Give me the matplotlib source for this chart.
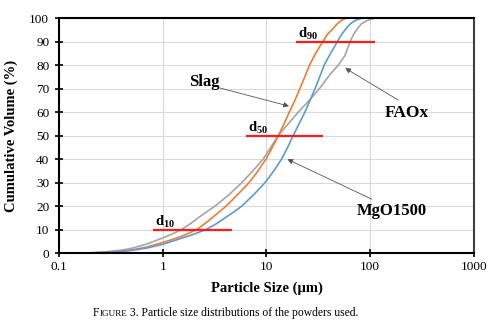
import matplotlib
matplotlib.use("Agg")
import matplotlib.pyplot as plt
from matplotlib.ticker import FixedLocator, NullLocator

plt.rcParams['font.family'] = ['Liberation Serif', 'DejaVu Serif']
plt.rcParams['mathtext.fontset'] = 'custom'
plt.rcParams['mathtext.rm'] = 'Liberation Serif'
plt.rcParams['mathtext.bf'] = 'Liberation Serif:bold'
plt.rcParams['mathtext.it'] = 'Liberation Serif:italic'

# Cumulative particle size distributions (size in µm, cumulative volume in %)
slag_size = [0.18, 0.25, 0.3, 0.4, 0.5, 0.7, 1.0, 1.25, 1.5, 1.8, 2.13, 2.55, 3.0,
             3.5, 4.1, 5.3, 6.8, 8.3, 9.9, 11.4, 13.0, 14.8, 16.6, 18.8, 21.0,
             23.4, 26.0, 29.8, 34.9, 38.5, 42.7, 47.5, 52.0, 56.0, 59.4, 1000]
slag_cum = [0, 0.15, 0.4, 0.8, 1.3, 2.5, 4.5, 5.8, 7.0, 8.5, 10, 12.5, 15,
            17.5, 20, 25, 30, 35, 40, 45, 50, 55, 60, 65, 70,
            75, 80, 85, 90, 93, 95, 97.3, 98.8, 99.6, 100, 100]

mgo_size = [0.2, 0.25, 0.3, 0.4, 0.5, 0.7, 1.0, 1.5, 2.0, 2.62, 3.3, 4.0, 4.85,
            5.8, 7.6, 9.7, 11.8, 14.0, 16.0, 18.1, 20.6, 23.5, 26.3, 29.4, 32.6,
            36.0, 41.5, 48.3, 52.5, 57.3, 63.0, 70.0, 78.0, 85.0, 1000]
mgo_cum = [0, 0.1, 0.3, 0.7, 1.1, 2.1, 3.7, 6.2, 8.0, 10, 12.5, 15, 17.5,
           20, 25, 30, 35, 40, 45, 50, 55, 60, 65, 70, 75,
           80, 85, 90, 92.8, 95, 97.2, 98.7, 99.6, 100, 100]

faox_size = [0.15, 0.2, 0.3, 0.4, 0.5, 0.7, 1.0, 1.25, 1.52, 1.85, 2.2, 2.65,
             3.2, 4.4, 5.8, 7.4, 9.3, 11.0, 13.0, 16.2, 20.3, 25.9, 32.4, 41.0,
             49.3, 57.0, 64.0, 69.0, 74.0, 82.0, 92.0, 105.0, 119.0, 1000]
faox_cum = [0, 0.1, 0.6, 1.2, 2.0, 3.8, 6.4, 8.2, 10, 12.5, 15, 17.5,
            20, 25, 30, 35, 40, 45, 50, 55, 60, 65, 70, 76,
            80, 84, 90, 93, 95, 97.5, 98.8, 99.7, 100, 100]

# d10 / d50 / d90 reference bars: (level, x start, x end)
d_levels = [10, 50, 90]
d_starts = [0.81, 6.35, 19.3]
d_ends = [4.6, 34.9, 110.0]
d_names = ['10', '50', '90']

x_ticks = [0.1, 1, 10, 100, 1000]
x_tick_labels = ['0.1', '1', '10', '100', '1000']
y_ticks = list(range(0, 101, 10))

fig = plt.figure(figsize=(4.99, 3.34), dpi=100)
ax = fig.add_axes([0.1182, 0.2425, 0.8317, 0.7035])
ax.set_xscale('log')
ax.set_xlim(0.1, 1000)
ax.set_ylim(0, 100)

ax.xaxis.set_major_locator(FixedLocator(x_ticks))
ax.xaxis.set_minor_locator(NullLocator())
ax.set_xticklabels(x_tick_labels)
ax.set_yticks(y_ticks)

ax.grid(True, color='#d9d9d9', lw=0.8)
ax.set_axisbelow(True)

ax.plot(faox_size, faox_cum, color='#a5a5a5', lw=1.2)
ax.plot(slag_size, slag_cum, color='#ed7d31', lw=1.2)
ax.plot(mgo_size, mgo_cum, color='#5b9bd5', lw=1.2)

for lvl, x0, x1, name in zip(d_levels, d_starts, d_ends, d_names):
    ax.plot([x0, x1], [lvl, lvl], color='#ff1a1a', lw=1.6, solid_capstyle='butt')
    ax.text(x0 * 1.04, lvl + 1.5, r'$\mathbf{d}_{\mathbf{' + name + '}}$',
            fontsize=10.5, ha='left', va='baseline')

# Material labels with leader arrows
arrow_kw = dict(arrowstyle='-|>', color='#555555', lw=0.6, mutation_scale=8,
                shrinkA=0, shrinkB=0)
ax.text(2.5, 72.8, 'Slag', fontsize=12, fontweight='bold', ha='center', va='center')
ax.annotate('', xy=(16.5, 62.5), xytext=(3.57, 70.2), arrowprops=arrow_kw)

ax.text(227, 59.6, 'FAOx', fontsize=12.5, fontweight='bold', ha='center', va='center')
ax.annotate('', xy=(57.3, 78.7), xytext=(186, 65.1), arrowprops=arrow_kw)

ax.text(162.6, 17.9, 'MgO1500', fontsize=12, fontweight='bold', ha='center', va='center')
ax.annotate('', xy=(15.9, 39.9), xytext=(103.5, 22.9), arrowprops=arrow_kw)

for side in ['left', 'bottom', 'top']:
    ax.spines[side].set_color('black')
    ax.spines[side].set_linewidth(1.5)
ax.spines['right'].set_color('#404040')
ax.spines['right'].set_linewidth(1.5)

ax.tick_params(axis='both', which='major', direction='inout', length=6,
               width=1.2, labelsize=9.5, colors='black')
ax.tick_params(axis='x', pad=3)
ax.tick_params(axis='y', pad=4)

ax.set_xlabel('Particle Size (µm)', fontsize=10.5, fontweight='bold', labelpad=6)
ax.set_ylabel('Cumulative Volume (%)', fontsize=10.5, fontweight='bold', labelpad=8)

# Caption with small-caps "FIGURE"
fig.canvas.draw()
renderer = fig.canvas.get_renderer()
parts = [('F', 8.4), ('IGURE', 6.6), (' 3. Particle size distributions of the powders used.', 8.4)]
x = 93 / 499
y_base = 1 - 316 / 334
for txt, size in parts:
    t = fig.text(x, y_base, txt, fontsize=size, ha='left', va='baseline', color='black')
    bb = t.get_window_extent(renderer=renderer)
    x += bb.width / fig.bbox.width

fig.savefig('out.png', dpi=100)
